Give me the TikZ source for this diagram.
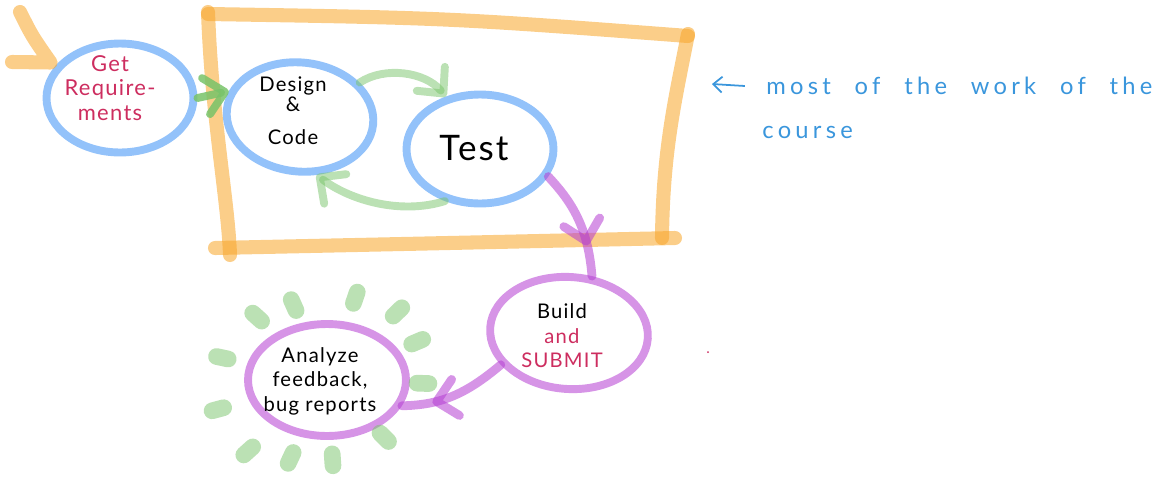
\documentclass[tikz,border=0pt]{standalone}
\usepackage{fontspec}
\setmainfont{Lato}
\newfontfamily\handfont[LetterSpace=6]{Lato}
\newfontfamily\notefont[LetterSpace=18,WordSpace=2.3]{Lato}
\usetikzlibrary{arrows.meta,shapes.geometric,decorations.markings,calc,positioning}

\definecolor{penorange}{RGB}{248,165,40}
\definecolor{penblue}{RGB}{147,194,250}
\definecolor{pengreen}{RGB}{120,195,105}
\definecolor{penpurple}{RGB}{180,60,210}
\definecolor{inkblue}{RGB}{58,150,220}
\definecolor{inkred}{RGB}{205,45,95}

\tikzstyle{bubble}=[ellipse, draw=penblue, line width=4.5pt, minimum width=2.94cm, minimum height=2.18cm, inner sep=0pt]
\tikzstyle{pbubble}=[bubble, draw=penpurple, draw opacity=0.55, minimum width=3.16cm, minimum height=2.24cm]
\tikzstyle{frame}=[draw=penorange, draw opacity=0.55, line width=8pt, line cap=round, line join=round]
\tikzstyle{flow}=[draw=pengreen, draw opacity=0.5, line width=4.5pt, line cap=round, -{barb}]
\tikzstyle{pflow}=[draw=penpurple, draw opacity=0.55, line width=5pt, line cap=round]
\tikzstyle{blob}=[draw=pengreen, draw opacity=0.5, line width=9.5pt, line cap=round]
\tikzstyle{hand}=[font=\handfont\fontsize{11.5}{14}\selectfont, align=center, inner sep=0pt]
\tikzstyle{note}=[text=inkblue, font=\notefont\fontsize{13.5}{16}\selectfont, anchor=west, inner sep=0pt]
\tikzset{
  barb/.tip={Straight Barb[length=11pt,width=21pt,round]},
  midtip/.style={postaction={decorate, decoration={markings, mark=at position #1 with {\arrow{barb}}}}}
}

\begin{document}
\begin{tikzpicture}[x=0.02cm, y=-0.02cm]
  \useasboundingbox (0,0) rectangle (1174,481);
  % the box round design and test
  \draw[frame] (208,14) .. controls (450,18) .. (688,36);
  \draw[frame] (688,34) .. controls (675,100) and (663,150) .. (662,238);
  \draw[frame] (215,248) .. controls (450,243) .. (675,238);
  \draw[frame] (208,12) .. controls (212,120) and (228,200) .. (230,255);

  % steps
  \node[bubble] (getreq) at (120,98) {};
  \node[bubble, rotate=-6] (design) at (300,117) {};
  \node[bubble] (test) at (480,149) {};
  \node[pbubble, rotate=-4] (build) at (569,333) {};
  \node[pbubble] (analyze) at (327,380) {};

  \node[hand, text=inkred, font=\handfont\fontsize{12.5}{14}\selectfont] at (110,88) {Get\\Require-\\ments};
  \node[hand] at (293,111) {Design\\[-3pt]\&\\[5pt]Code};
  \node[hand, font=\handfont\fontsize{20}{22}\selectfont] at (474,148) {Test};
  \node[hand] at (562,336) {Build\\\textcolor{inkred}{and}\\\textcolor{inkred}{SUBMIT}};
  \node[hand] at (320,381) {Analyze\\feedback,\\bug reports};

  % way in
  \coordinate (in1) at (20,12);
  \coordinate (in2) at (12,62);
  \draw[frame] (in1) .. controls (32,36) .. ($(getreq.150)+(-8,0)$) -- (in2);

  % arrows between steps
  \draw[flow, draw opacity=0.85] (getreq.east) -- (design.166);
  \draw[flow] (design.36) .. controls (385,66) and (425,72) .. (test.123);
  \draw[flow] (test.236) .. controls (400,215) and (350,200) .. (design.292);
  \draw[pflow, midtip=0.72] (test.-22) .. controls (570,200) and (588,225) .. (build.72);
  \draw[pflow, midtip=0.72] (build.209) .. controls (465,395) and (440,405) .. (analyze.-19);

  % glow round the feedback step
  \foreach \a/\r in {222/94,246/82,289/87,316/98,337/98,2/96,45/81,86/80,115/86,138/106,165/113,192/107}
    \draw[blob] ($(analyze)+({\a}:{\r-6})$) -- ($(analyze)+({\a}:{\r+6})$);

  % side note
  \node[note] (note1) at (766,86) {most of the work of the};
  \node[note] (note2) at (762,132) {course};
  \coordinate (pt) at (712,84);
  \draw[inkblue, line width=1pt, -{Straight Barb[length=5pt,width=9pt]}] ([xshift=-12pt]note1.west) -- (pt);

  \fill[inkred] (708,352) circle (1);
\end{tikzpicture}
\end{document}
